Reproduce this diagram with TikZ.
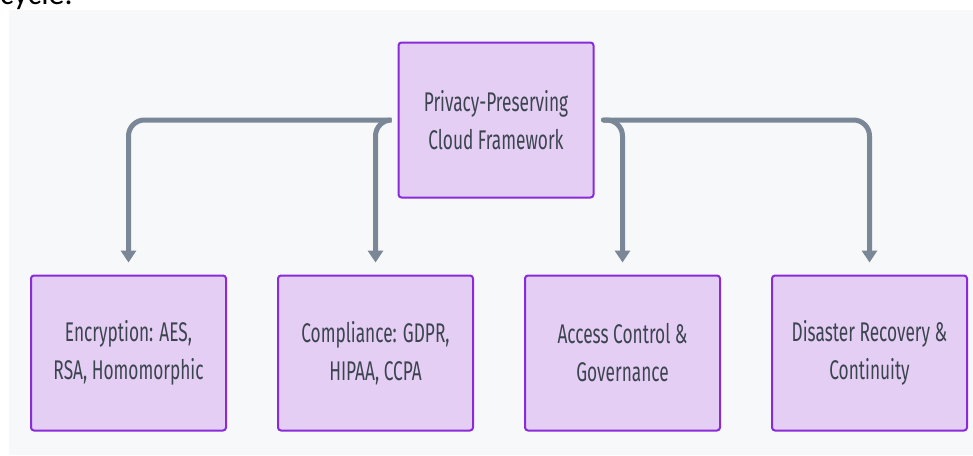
\documentclass[tikz,border=0pt]{standalone}
\usepackage{fontspec}
\setmainfont{Fira Sans}[FakeStretch=0.64]
\newfontfamily\notefont{Carlito}
\usetikzlibrary{positioning, arrows.meta}

\definecolor{boxfill}{RGB}{228,206,243}
\definecolor{boxline}{RGB}{137,43,216}
\definecolor{linkgray}{RGB}{122,135,150}
\definecolor{txtgray}{RGB}{60,68,80}
\definecolor{panel}{RGB}{247,248,250}

\begin{document}
\begin{tikzpicture}[x=1pt, y=-1pt, node distance=50pt,
    block/.style={draw=boxline, fill=boxfill, line width=2pt, rounded corners=3pt,
        minimum width=195pt, minimum height=155pt, align=center, text=txtgray,
        font=\fontsize{27}{38}\selectfont},
    link/.style={draw=linkgray, line width=5pt, rounded corners=16pt, line cap=round,
        -{Triangle[length=12pt,width=15pt]}, shorten >=12pt}]
    \useasboundingbox (0,0) rectangle (973,455);
    \fill[panel] (9,10) rectangle (973,455);
    \node[anchor=base west, inner sep=0pt, font=\notefont\fontsize{32}{32}\selectfont] (note) at (0,5) {cycle.};

    \node[block] (frame) at (496,120) {Privacy-Preserving\\Cloud Framework};
    \node[block] (enc) at (128.5,353) {Encryption: AES,\\RSA, Homomorphic};
    \node[block, right=of enc] (comp) {Compliance: GDPR,\\HIPAA, CCPA};
    \node[block, right=of comp] (acc) {Access Control \&\\Governance};
    \node[block, right=of acc] (dis) {Disaster Recovery \&\\Continuity};

    \draw[link, shorten <=8pt] (frame.west) -| (enc.north);
    \draw[link, shorten <=8pt] (frame.west) -| (comp.north);
    \draw[link, shorten <=9pt] (frame.east) -| (acc.north);
    \draw[link, shorten <=9pt] (frame.east) -| (dis.north);
\end{tikzpicture}
\end{document}
